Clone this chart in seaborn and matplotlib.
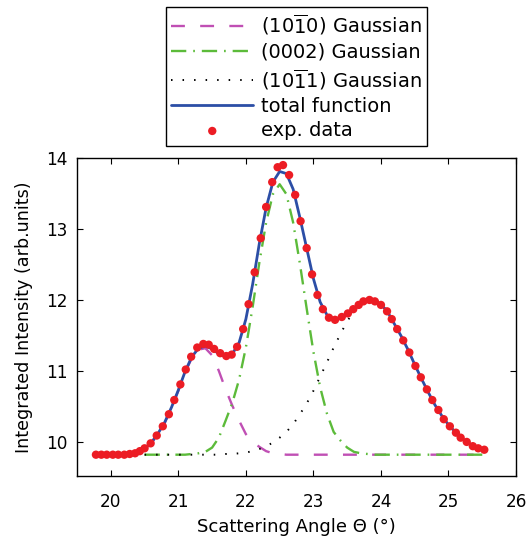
import matplotlib
matplotlib.use("Agg")
import matplotlib.pyplot as plt
import seaborn as sns

# ---------------- data ----------------
data_x = [19.78, 19.86, 19.94, 20.03, 20.11, 20.20, 20.28, 20.36, 20.43, 20.50,
          20.59, 20.68, 20.77, 20.86, 20.94, 21.03, 21.11, 21.19, 21.28, 21.37,
          21.45, 21.53, 21.62, 21.71, 21.79, 21.87, 21.96, 22.04, 22.13, 22.22,
          22.30, 22.39, 22.47, 22.55, 22.64, 22.73, 22.81, 22.90, 22.98, 23.06,
          23.14, 23.23, 23.32, 23.42, 23.51, 23.59, 23.67, 23.74, 23.83, 23.91,
          24.00, 24.09, 24.16, 24.24, 24.33, 24.42, 24.51, 24.59, 24.68, 24.76,
          24.85, 24.93, 25.02, 25.11, 25.18, 25.27, 25.36, 25.44, 25.53]
data_y = [9.82, 9.82, 9.82, 9.82, 9.82, 9.82, 9.83, 9.84, 9.87, 9.91,
          9.98, 10.09, 10.22, 10.39, 10.59, 10.81, 11.02, 11.20, 11.33, 11.38,
          11.37, 11.31, 11.25, 11.21, 11.23, 11.34, 11.59, 11.94, 12.39, 12.87,
          13.31, 13.66, 13.87, 13.90, 13.76, 13.48, 13.11, 12.73, 12.36, 12.07,
          11.87, 11.75, 11.72, 11.76, 11.81, 11.87, 11.93, 11.98, 12.00, 11.98,
          11.93, 11.84, 11.73, 11.59, 11.43, 11.26, 11.07, 10.91, 10.74, 10.59,
          10.45, 10.32, 10.22, 10.13, 10.06, 10.00, 9.94, 9.91, 9.89]

total_x = [19.8, 19.9, 20.0, 20.1, 20.2, 20.3, 20.4, 20.5, 20.6, 20.7,
           20.8, 20.9, 21.0, 21.1, 21.2, 21.3, 21.4, 21.5, 21.6, 21.7,
           21.8, 21.9, 22.0, 22.1, 22.2, 22.3, 22.4, 22.5, 22.6, 22.7,
           22.8, 22.9, 23.0, 23.1, 23.2, 23.3, 23.4, 23.5, 23.6, 23.7,
           23.8, 23.9, 24.0, 24.1, 24.2, 24.3, 24.4, 24.5, 24.6, 24.7,
           24.8, 24.9, 25.0, 25.1, 25.2, 25.3, 25.4, 25.5]
total_y = [9.82, 9.82, 9.82, 9.82, 9.83, 9.84, 9.87, 9.91, 9.99, 10.12,
           10.28, 10.49, 10.73, 10.99, 11.20, 11.32, 11.35, 11.31, 11.24, 11.20,
           11.24, 11.40, 11.73, 12.22, 12.80, 13.30, 13.66, 13.81, 13.78, 13.56,
           13.16, 12.73, 12.30, 11.97, 11.79, 11.73, 11.75, 11.80, 11.87, 11.94,
           11.99, 11.99, 11.94, 11.83, 11.66, 11.49, 11.30, 11.09, 10.89, 10.70,
           10.52, 10.37, 10.24, 10.14, 10.05, 9.98, 9.93, 9.90]

comp_x = [20.5, 20.6, 20.7, 20.8, 20.9, 21.0, 21.1, 21.2, 21.3, 21.4,
          21.5, 21.6, 21.7, 21.8, 21.9, 22.0, 22.1, 22.2, 22.3, 22.4,
          22.5, 22.6, 22.7, 22.8, 22.9, 23.0, 23.1, 23.2, 23.3, 23.4,
          23.5, 23.6, 23.7, 23.8, 23.9, 24.0, 24.1, 24.2, 24.3, 24.4,
          24.5, 24.6, 24.7, 24.8, 24.9, 25.0, 25.1, 25.2, 25.3, 25.4, 25.5]
peak_1010 = [9.90, 9.98, 10.11, 10.27, 10.48, 10.72, 10.98, 11.18, 11.30, 11.32,
             11.22, 11.00, 10.74, 10.51, 10.30, 10.11, 10.00, 9.93, 9.87, 9.84,
             9.83, 9.82, 9.82, 9.82, 9.82, 9.82, 9.82, 9.82, 9.82, 9.82,
             9.82, 9.82, 9.82, 9.82, 9.82, 9.82, 9.82, 9.82, 9.82, 9.82,
             9.82, 9.82, 9.82, 9.82, 9.82, 9.82, 9.82, 9.82, 9.82, 9.82, 9.82]
peak_0002 = [9.82, 9.82, 9.82, 9.82, 9.82, 9.82, 9.82, 9.83, 9.84, 9.86,
             9.92, 10.06, 10.30, 10.55, 10.88, 11.33, 11.90, 12.53, 13.09, 13.49,
             13.63, 13.49, 13.09, 12.51, 11.88, 11.27, 10.77, 10.40, 10.14, 10.02,
             9.92, 9.86, 9.84, 9.83, 9.82, 9.82, 9.82, 9.82, 9.82, 9.82,
             9.82, 9.82, 9.82, 9.82, 9.82, 9.82, 9.82, 9.82, 9.82, 9.82, 9.82]
peak_1011 = [9.82, 9.82, 9.82, 9.82, 9.82, 9.82, 9.82, 9.82, 9.82, 9.82,
             9.82, 9.82, 9.83, 9.83, 9.84, 9.85, 9.87, 9.90, 9.94, 9.99,
             10.06, 10.14, 10.25, 10.39, 10.54, 10.72, 10.92, 11.12, 11.33, 11.52,
             11.70, 11.84, 11.94, 11.99, 11.99, 11.94, 11.83, 11.66, 11.49, 11.30,
             11.09, 10.89, 10.70, 10.52, 10.37, 10.24, 10.14, 10.05, 9.98, 9.93, 9.90]

labels = [r"(10$\overline{\mathregular{1}}$0) Gaussian",
          "(0002) Gaussian",
          r"(10$\overline{\mathregular{1}}$1) Gaussian",
          "total function",
          "exp. data"]
x_ticks = [20, 21, 22, 23, 24, 25, 26]
y_ticks = [10, 11, 12, 13, 14]

# ---------------- style ----------------
sns.set_style("ticks")
plt.rcParams["font.family"] = ["DejaVu Sans"]
plt.rcParams["mathtext.fontset"] = "dejavusans"
plt.rcParams["lines.scale_dashes"] = False
plt.rcParams["text.color"] = "black"
plt.rcParams["axes.labelcolor"] = "black"
plt.rcParams["xtick.color"] = "black"
plt.rcParams["ytick.color"] = "black"

fig = plt.figure(figsize=(5.29, 5.39), dpi=100)
ax = fig.add_axes([0.1456, 0.1169, 0.8299, 0.590])

sns.lineplot(x=comp_x, y=peak_1010, ax=ax, color="#c04fb4", lw=1.7,
             linestyle=(0, (10, 11)), label=labels[0], sort=False, estimator=None, zorder=2)
sns.lineplot(x=comp_x, y=peak_0002, ax=ax, color="#5cbb3a", lw=1.7,
             linestyle=(0, (11, 5, 1.2, 5)), label=labels[1], sort=False, estimator=None, zorder=2)
sns.lineplot(x=comp_x, y=peak_1011, ax=ax, color="black", lw=1.4,
             linestyle=(0, (1.1, 7.2)), label=labels[2], sort=False, estimator=None, zorder=2)
sns.lineplot(x=total_x, y=total_y, ax=ax, color="#2c4ea6", lw=2.0,
             label=labels[3], sort=False, estimator=None, zorder=3)
sns.scatterplot(x=data_x, y=data_y, ax=ax, color="#ec1c24", s=36, edgecolor="none",
                linewidth=0, label=labels[4], zorder=4)

ax.set_xlim(19.5, 26)
ax.set_ylim(9.52, 14)
ax.set_xticks(x_ticks)
ax.set_yticks(y_ticks)
ax.tick_params(direction="in", top=True, right=True, length=4, width=0.8,
               labelsize=12.2, colors="black")
ax.tick_params(axis="x", pad=12)
ax.tick_params(axis="y", pad=7)
for sp in ax.spines.values():
    sp.set_visible(True)
    sp.set_linewidth(1.0)
    sp.set_color("black")

ax.set_xlabel("Scattering Angle \u0398 (\u00b0)", fontsize=13, labelpad=5)
ax.set_ylabel("Integrated Intensity (arb.units)", fontsize=12.6, labelpad=9)

handles, labs = ax.get_legend_handles_labels()
leg = ax.legend(handles, labs, loc="lower center", bbox_to_anchor=(0.5, 1.038),
                frameon=True, fancybox=False, edgecolor="black", framealpha=1,
                fontsize=14, handlelength=4.2, handletextpad=0.4,
                labelspacing=0.27, borderpad=0.3, borderaxespad=0, scatterpoints=1)
leg.get_frame().set_linewidth(1.0)

fig.savefig("out.png", dpi=100)
